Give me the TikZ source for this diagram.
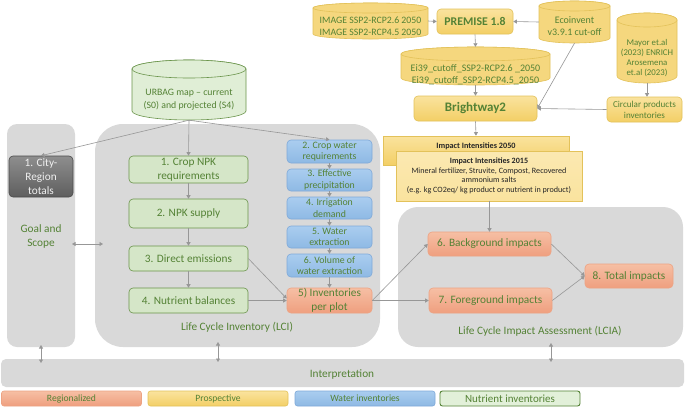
\documentclass[tikz,border=0pt]{standalone}
\usepackage{fontspec}
\setmainfont{Carlito}
\usetikzlibrary{arrows.meta,calc}
\definecolor{txtg}{HTML}{548235}
\definecolor{panelg}{HTML}{D9D9D9}
\definecolor{arrg}{HTML}{979797}
\definecolor{grnF}{HTML}{D5E6C8}
\definecolor{grnD}{HTML}{6A944B}
\definecolor{bluT}{HTML}{AACDEF}
\definecolor{bluB}{HTML}{8EB9E4}
\definecolor{bluD}{HTML}{7FA9D9}
\definecolor{orT}{HTML}{F6BFA4}
\definecolor{orB}{HTML}{EF9F7F}
\definecolor{orD}{HTML}{EDA383}
\definecolor{yeT}{HTML}{FAE39E}
\definecolor{yeB}{HTML}{F3CF66}
\definecolor{yeD}{HTML}{E3C25A}
\definecolor{yeF}{HTML}{F5D77E}
\definecolor{dgT}{HTML}{8E8E8E}
\definecolor{dgB}{HTML}{5E5E5E}
\definecolor{dgD}{HTML}{4A4A4A}
\definecolor{iiT}{HTML}{262626}
\definecolor{nutF}{HTML}{E2F0D9}
\newcommand\mycyl[7]{%
 \pgfmathsetmacro\mycx{(#2+#4)/2}%
 \pgfmathsetmacro\myrx{(#4-#2)/2}%
 \pgfmathsetmacro\mycy{-(#3+#5)/2}%
 \pgfmathsetmacro\mytop{-(#3+#6)}%
 \pgfmathsetmacro\mybot{-(#5-#6)}%
 \pgfmathsetmacro\mywd{#4-#2}%
 \pgfmathsetmacro\myht{#5-#3}%
 \path[#7] (#2,\mytop) -- (#2,\mybot) arc[start angle=180,end angle=360,x radius=\myrx pt,y radius=#6 pt] -- (#4,\mytop) arc[start angle=0,end angle=180,x radius=\myrx pt,y radius=#6 pt] -- cycle;
 \path[#7] (\mycx,\mytop) ellipse[x radius=\myrx pt,y radius=#6 pt];
 \node[inner sep=0pt,minimum width=\mywd pt,minimum height=\myht pt] (#1) at (\mycx,\mycy) {};
}
\begin{document}
\begin{tikzpicture}[x=1pt,y=1pt,
  fA/.style={font=\fontsize{11.3}{14}\selectfont},
  fB/.style={font=\fontsize{9.8}{11.5}\selectfont},
  fC/.style={font=\fontsize{9.8}{12}\selectfont},
  bx/.style={rounded corners=4pt,line width=0.6pt,inner sep=0pt,align=center,text=txtg},
  grn/.style={bx,fill=grnF,draw=grnD,fA},
  blu/.style={bx,top color=bluT,bottom color=bluB,draw=bluD,fB},
  org/.style={bx,top color=orT,bottom color=orB,draw=orD,fA},
  yel/.style={bx,top color=yeT,bottom color=yeB,draw=yeD},
  dgr/.style={bx,top color=dgT,bottom color=dgB,draw=dgD,text=white!94!black,fA},
  cylG/.style={fill=nutF!85!grnF,draw=grnD,line width=0.6pt},
  cylY/.style={fill=yeF,draw=yeD,line width=0.6pt},
  ctext/.style={inner sep=0pt,align=center,text=txtg},
  lbl/.style={inner sep=0pt,align=center,text=txtg,fA},
  leg/.style={rounded corners=2.5pt,line width=0.6pt,inner sep=0pt,text=txtg,minimum width=140pt,minimum height=15pt,font=\fontsize{9.6}{11}\selectfont},
  conn/.style={draw=arrg,line width=0.6pt,-{Triangle[length=3.5pt,width=4pt]}},
  dconn/.style={draw=arrg,line width=0.6pt,{Triangle[length=3.5pt,width=4pt]}-{Triangle[length=3.5pt,width=4pt]}}
]
\useasboundingbox (0,0) rectangle (685,-408);
\fill[white] (0,0) rectangle (685,-408);

% panels
\fill[panelg,rounded corners=10pt] (7,-124) rectangle (75,-347);
\fill[panelg,rounded corners=28pt] (95,-124) rectangle (380,-347);
\fill[panelg,rounded corners=20pt] (398,-207) rectangle (683,-347);
\fill[panelg,rounded corners=5pt] (1,-359) rectangle (684,-387);

\node[lbl] (gsT) at (41,-236) {Goal and\\Scope};
\node[lbl] (lciT) at (237,-327) {Life Cycle Inventory (LCI)};
\node[lbl] (lciaT) at (540,-331) {Life Cycle Impact Assessment (LCIA)};
\node[lbl] (intT) at (342,-374) {Interpretation};

% cylinders
\mycyl{urbag}{132}{60}{246}{120}{9}{cylG}
\node[ctext,font=\fontsize{9.8}{13}\selectfont] (urbagT) at (189,-99.5) {URBAG map -- current\\(S0) and projected (S4)};
\mycyl{image}{313}{3}{428}{39}{5}{cylY}
\node[ctext,fC] (imageT) at (370.5,-26) {IMAGE SSP2-RCP2.6 2050\\IMAGE SSP2-RCP4.5 2050};
\mycyl{eco}{539}{1}{610}{43}{5}{cylY}
\node[ctext,font=\fontsize{10}{12}\selectfont] (ecoT) at (574.5,-26) {Ecoinvent\\v3.9.1 cut-off};
\mycyl{ei}{401}{47}{550}{85}{7}{cylY}
\node[ctext,font=\fontsize{10}{12}\selectfont] (eiT) at (475.5,-75) {Ei39\_cutoff\_SSP2-RCP2.6 \_2050\\Ei39\_cutoff\_SSP2-RCP4.5\_2050};
\mycyl{mayor}{617}{13}{677}{83}{7}{cylY}
\node[ctext,font=\fontsize{8.8}{10}\selectfont] (mayorT) at (647,-58) {Mayor et.al\\(2023) ENRICH\\Arosemena\\et.al (2023)};

% yellow boxes
\node[yel,minimum width=76pt,minimum height=25pt,font=\bfseries\fontsize{11.8}{14}\selectfont] (premise) at (475,-21.5) {PREMISE 1.8};
\node[yel,minimum width=123pt,minimum height=25pt,font=\bfseries\fontsize{13}{15}\selectfont] (bw) at (475.5,-108.5) {Brightway2};
\node[yel,minimum width=75pt,minimum height=25pt,font=\fontsize{9.1}{11}\selectfont] (circ) at (644.5,-109.5) {Circular products\\inventories};
\node[yel,rounded corners=0pt,minimum width=186pt,minimum height=29pt] (ii50) at (476,-150.5) {};
\node[ctext,text=iiT,font=\bfseries\fontsize{8.2}{10}\selectfont] (ii50T) at (476,-146) {Impact Intensities 2050};
\node[yel,rounded corners=0pt,top color=yeT!80!white,bottom color=yeT,minimum width=186pt,minimum height=50pt,text=iiT,font=\fontsize{8.1}{9.6}\selectfont] (ii15) at (489,-176) {\textbf{Impact Intensities 2015}\\Mineral fertilizer, Struvite, Compost, Recovered\\ammonium salts\\(e.g. kg CO2eq/ kg product or nutrient in product)};

% LCI boxes
\node[dgr,minimum width=64pt,minimum height=41pt] (city) at (41,-176.5) {1. City-\\Region\\totals};
\node[grn,minimum width=119pt,minimum height=27pt] (npk1) at (188.5,-169.5) {1. Crop NPK\\requirements};
\node[grn,minimum width=119pt,minimum height=29pt] (npk2) at (188.5,-213.5) {2. NPK supply};
\node[grn,minimum width=119pt,minimum height=25pt] (de) at (188.5,-258.5) {3. Direct emissions};
\node[grn,minimum width=119pt,minimum height=25pt] (nb) at (188.5,-300.5) {4. Nutrient balances};
\node[blu,minimum width=85pt,minimum height=23pt] (w2) at (329.5,-151.5) {2. Crop water\\requirements};
\node[blu,minimum width=85pt,minimum height=22pt] (w3) at (329.5,-180) {3. Effective\\precipitation};
\node[blu,minimum width=85pt,minimum height=22pt] (w4) at (329.5,-208) {4. Irrigation\\demand};
\node[blu,minimum width=85pt,minimum height=22pt] (w5) at (329.5,-237) {5. Water\\extraction};
\node[blu,minimum width=85pt,minimum height=23pt] (w6) at (329.5,-265.5) {6. Volume of\\water extraction};
\node[org,minimum width=85pt,minimum height=25pt] (inv) at (329.5,-300.5) {5) Inventories\\per plot};

% LCIA boxes
\node[org,minimum width=123pt,minimum height=24pt] (bg) at (489.5,-244) {6. Background impacts};
\node[org,minimum width=123pt,minimum height=25pt] (fg) at (490.5,-300.5) {7. Foreground impacts};
\node[org,minimum width=88pt,minimum height=24pt] (tot) at (629,-276) {8. Total impacts};

% legend
\node[leg,top color=orT,bottom color=orB,draw=orD] (lreg) at (71.5,-398.5) {Regionalized};
\node[leg,top color=yeT,bottom color=yeB,draw=yeD] (lpro) at (218,-398.5) {Prospective};
\node[leg,top color=bluT,bottom color=bluB,draw=bluD] (lwat) at (365,-398.5) {Water inventories};
\node[leg,fill=nutF,draw=txtg,line width=0.9pt,font=\fontsize{11}{13}\selectfont] (lnut) at (510,-398.5) {Nutrient inventories};

% coordinates for double arrows
\coordinate (gsR) at (72,-244);
\coordinate (lciL) at (103,-244);
\coordinate (gsB) at (41,-345);
\coordinate (intA) at (41,-363);
\coordinate (lciB) at (218,-342);
\coordinate (intB) at (218,-362);
\coordinate (lciaB) at (551,-343);
\coordinate (intC) at (551,-362);

% connectors
\draw[conn] (urbag.south) -- (city.north);
\draw[conn] (urbag.south) -- (npk1.north);
\draw[conn] (urbag.south) -- (w2.north);
\draw[conn] (npk1) -- (npk2);
\draw[conn] (npk2) -- (de);
\draw[conn] (de) -- (nb);
\draw[conn] (de.east) -- ($(inv.west)+(0,2)$);
\draw[conn] (nb.east) -- (inv.west);
\draw[conn] (w2) -- (w3);
\draw[conn] (w3) -- (w4);
\draw[conn] (w4) -- (w5);
\draw[conn] (w5) -- (w6);
\draw[conn] (w6) -- (inv);
\draw[conn] (inv.east) -- (bg.west);
\draw[conn] (inv.east) -- (fg.west);
\draw[conn] (bg.east) -- (tot.west);
\draw[conn] (fg.east) -- (tot.west);
\draw[conn] (ii15.south -| bg.north) -- (bg.north);
\draw[conn] (image.east) -- (premise.west);
\draw[conn] (eco.west) -- (premise.east);
\draw[conn] (premise.south) -- (ei.north);
\draw[conn] (ei.south) -- (bw.north);
\draw[conn] (eco.south) -- (bw.east);
\draw[conn] (circ.west) -- (bw.east);
\draw[conn] (mayor.south) -- (mayor.south |- circ.north);
\draw[conn] (bw.south) -- (ii50.north);
\draw[dconn] (gsR) -- (lciL);
\draw[dconn] (gsB) -- (intA);
\draw[dconn] (lciB) -- (intB);
\draw[dconn] (lciaB) -- (intC);
\end{tikzpicture}
\end{document}
